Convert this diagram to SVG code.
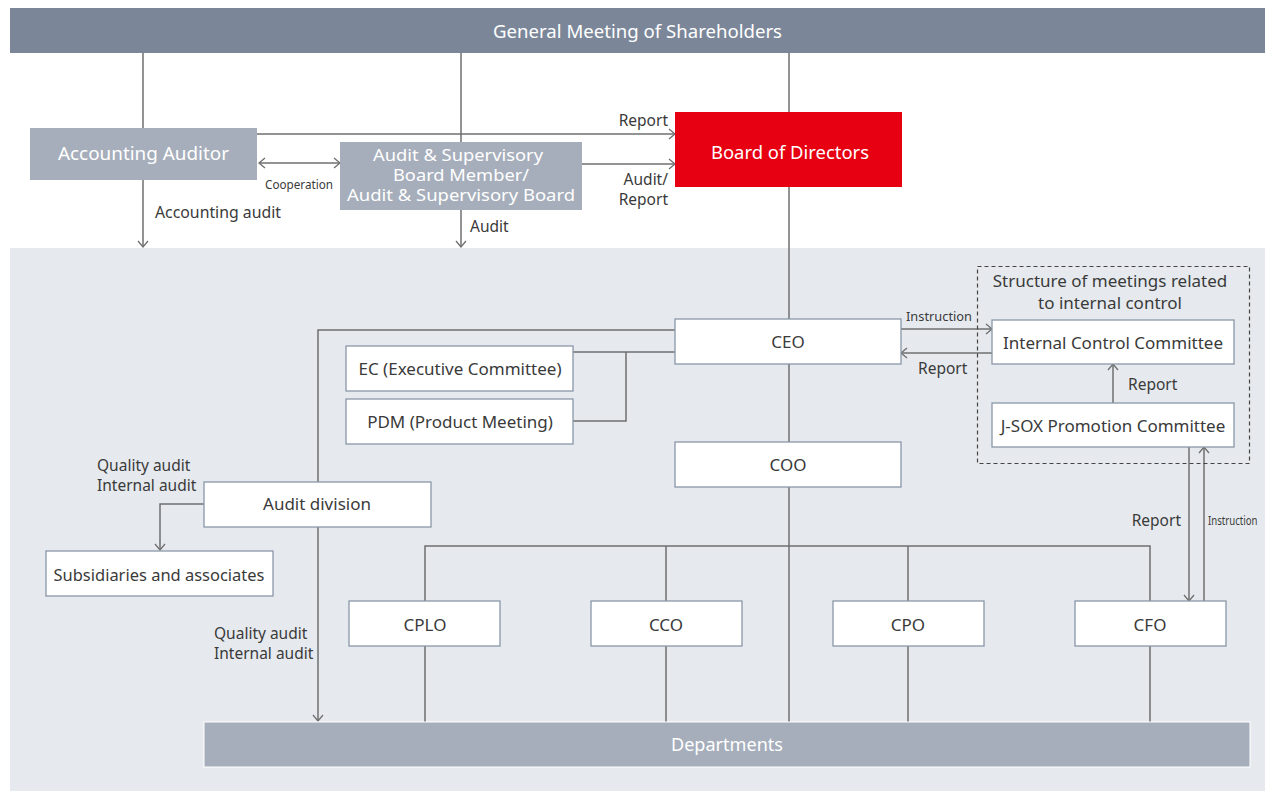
<svg xmlns="http://www.w3.org/2000/svg" width="1265" height="791" viewBox="0 0 1265 791">
<defs>
<marker id="arr" markerUnits="userSpaceOnUse" markerWidth="12" markerHeight="14" refX="9" refY="6" orient="auto-start-reverse" viewBox="0 0 12 12">
<path d="M3,1 L9,6 L3,11" fill="none" stroke="#6f6f6f" stroke-width="1.3"/>
</marker>
<style>
text{font-family:"Noto Sans","Open Sans","Liberation Sans",sans-serif;fill:#3a3a3a;font-size:15.5px}
.w{fill:#ffffff;font-size:17.5px}
.w2{fill:#ffffff;font-size:15.5px}
.c{text-anchor:middle}
.e{text-anchor:end}
.n{font-size:17px}
.box{fill:#ffffff;stroke:#8b97a9;stroke-width:1.3}
.gbox{fill:#a6aebb}
.ln{fill:none;stroke:#6f6f6f;stroke-width:1.5}
.a{marker-end:url(#arr)}
.sm{font-size:13px}
</style>
</defs>
<rect x="10" y="248" width="1255" height="543" fill="#e6eaee"/>
<g id="shareholders"><rect x="10" y="8" width="1255" height="45" fill="#7b8799"/><text class="w c" x="637.5" y="38" textLength="289" lengthAdjust="spacingAndGlyphs">General Meeting of Shareholders</text></g>
<g id="connectors">
<path class="ln" d="M143,53 V128"/>
<path class="ln a" d="M143,180 V247"/>
<path class="ln" d="M461,53 V142"/>
<path class="ln a" d="M461,210 V247"/>
<path class="ln" d="M789,53 V112"/>
<path class="ln" d="M789,187 V319"/>
<path class="ln a" d="M257,134 H675"/>
<path class="ln a" d="M582,164 H675"/>
<path class="ln a" d="M259,163 H340" style="marker-start:url(#arr)"/>
<path class="ln" d="M675,352 H573 M626,352 V421 H573"/>
<path class="ln" d="M675,330 H318 V482"/>
<path class="ln a" d="M318,527 V721"/>
<path class="ln a" d="M204,504 H160 V550"/>
<path class="ln" d="M789,364 V442"/>
<path class="ln" d="M789,487 V722"/>
<path class="ln" d="M425,601 V546 H1150 V601 M666,546 V601 M908,546 V601"/>
<path class="ln" d="M425,646 V722 M666,646 V722 M908,646 V722 M1150,646 V722"/>
<path class="ln a" d="M901,329 H992"/>
<path class="ln a" d="M992,353 H901"/>
<path class="ln a" d="M1113,403 V364"/>
<path class="ln a" d="M1189,447 V601"/>
<path class="ln a" d="M1204,601 V447"/>
<rect x="977.5" y="266.5" width="272" height="197" fill="none" stroke="#444" stroke-width="1.2" stroke-dasharray="4,3"/>
</g>
<g id="labels">
<text class="e" x="668" y="126">Report</text>
<text class="sm c" x="299" y="189" textLength="68" lengthAdjust="spacingAndGlyphs">Cooperation</text>
<text x="155" y="218" textLength="126" lengthAdjust="spacingAndGlyphs">Accounting audit</text>
<text x="470" y="232">Audit</text>
<text class="e" x="668" y="185">Audit/<tspan x="668" dy="20">Report</tspan></text>
<text class="sm" x="906" y="321" textLength="66" lengthAdjust="spacingAndGlyphs">Instruction</text>
<text x="918" y="374">Report</text>
<text x="1128" y="390">Report</text>
<text class="n c" x="1110" y="287">Structure of meetings related<tspan x="1110" dy="22">to internal control</tspan></text>
<text class="e" x="1181" y="526">Report</text>
<g transform="translate(1208,525) scale(0.74,1)"><text class="sm" x="0" y="0">Instruction</text></g>
<text x="97" y="471">Quality audit<tspan x="97" dy="20">Internal audit</tspan></text>
<text x="214" y="639">Quality audit<tspan x="214" dy="20">Internal audit</tspan></text>
</g>
<g id="accounting-auditor"><rect class="gbox" x="30" y="128" width="227" height="52"/><text class="w c" x="143.5" y="160" textLength="171" lengthAdjust="spacingAndGlyphs">Accounting Auditor</text></g>
<g id="audit-board"><rect class="gbox" x="340" y="142" width="242" height="68"/><text class="w2 c" x="458" y="160.5"><tspan x="458" textLength="170" lengthAdjust="spacingAndGlyphs">Audit &amp; Supervisory</tspan><tspan x="461" dy="20" textLength="136" lengthAdjust="spacingAndGlyphs">Board Member/</tspan><tspan x="461" dy="20" textLength="228" lengthAdjust="spacingAndGlyphs">Audit &amp; Supervisory Board</tspan></text></g>
<g id="board"><rect x="675" y="112" width="227" height="75" fill="#e60012"/><text class="w c" x="790" y="159" textLength="158" lengthAdjust="spacingAndGlyphs">Board of Directors</text></g>
<g id="ceo"><rect class="box" x="675" y="319" width="226" height="45"/><text class="n c" x="788" y="348">CEO</text></g>
<g id="ec"><rect class="box" x="346" y="346" width="227" height="45"/><text class="n c" x="460" y="375">EC (Executive Committee)</text></g>
<g id="pdm"><rect class="box" x="346" y="399" width="227" height="45"/><text class="n c" x="460" y="428">PDM (Product Meeting)</text></g>
<g id="coo"><rect class="box" x="675" y="442" width="226" height="45"/><text class="n c" x="788" y="471">COO</text></g>
<g id="audit-division"><rect class="box" x="204" y="482" width="227" height="45"/><text class="n c" x="317" y="510">Audit division</text></g>
<g id="subsidiaries"><rect class="box" x="46" y="551" width="227" height="45"/><text class="n c" x="159" y="581" textLength="211" lengthAdjust="spacingAndGlyphs">Subsidiaries and associates</text></g>
<g id="icc"><rect class="box" x="992" y="320" width="242" height="44"/><text class="n c" x="1113" y="349">Internal Control Committee</text></g>
<g id="jsox"><rect class="box" x="992" y="403" width="242" height="44"/><text class="n c" x="1113" y="432">J-SOX Promotion Committee</text></g>
<g id="cplo"><rect class="box" x="349" y="601" width="151" height="45"/><text class="n c" x="425" y="631">CPLO</text></g>
<g id="cco"><rect class="box" x="591" y="601" width="151" height="45"/><text class="n c" x="666" y="631">CCO</text></g>
<g id="cpo"><rect class="box" x="833" y="601" width="151" height="45"/><text class="n c" x="908" y="631">CPO</text></g>
<g id="cfo"><rect class="box" x="1075" y="601" width="151" height="45"/><text class="n c" x="1150" y="631">CFO</text></g>
<g id="departments"><rect x="204" y="722" width="1046" height="45" fill="#a6aebb" stroke="#ffffff" stroke-width="1"/><text class="w c" x="727" y="751" textLength="112" lengthAdjust="spacingAndGlyphs">Departments</text></g>
</svg>
